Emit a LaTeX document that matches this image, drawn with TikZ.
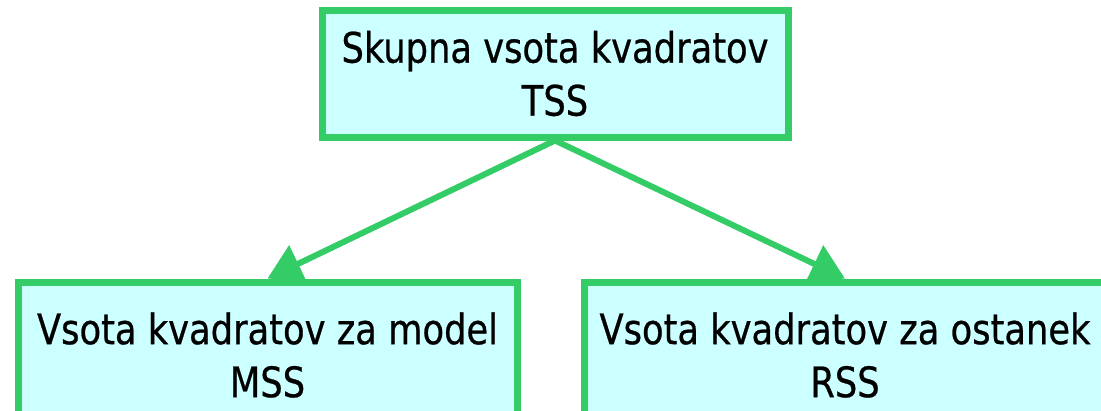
\documentclass[tikz,border=0pt]{standalone}
\usepackage{fontspec}
\newfontfamily\dfont[FakeStretch=0.84,FakeBold=0.6]{DejaVu Sans}
\usetikzlibrary{arrows.meta}
\definecolor{boxgreen}{RGB}{51,204,102}
\definecolor{boxfill}{RGB}{204,255,255}
\begin{document}
\begin{tikzpicture}[x=1pt,y=-1pt,
  box/.style={draw=boxgreen,fill=boxfill,line width=7pt,rectangle,align=center,
    font=\dfont\fontsize{42}{53}\selectfont,inner sep=0pt},
  conn/.style={draw=boxgreen,line width=6pt,-{Triangle[length=34pt,width=40pt]}}]
\useasboundingbox (0,0) rectangle (1101,410);
\node[box,minimum width=466pt,minimum height=127pt] (tss) at (555,73.5)
  {Skupna vsota kvadratov\\TSS};
\node[box,minimum width=499pt,minimum height=146pt] (mss) at (267.5,355)
  {Vsota kvadratov za model\\MSS};
\node[box,minimum width=522pt,minimum height=146pt] (rss) at (845,355)
  {Vsota kvadratov za ostanek\\RSS};
\draw[conn] (tss.south) -- (mss.north);
\draw[conn] (tss.south) -- (rss.north);
\end{tikzpicture}
\end{document}
